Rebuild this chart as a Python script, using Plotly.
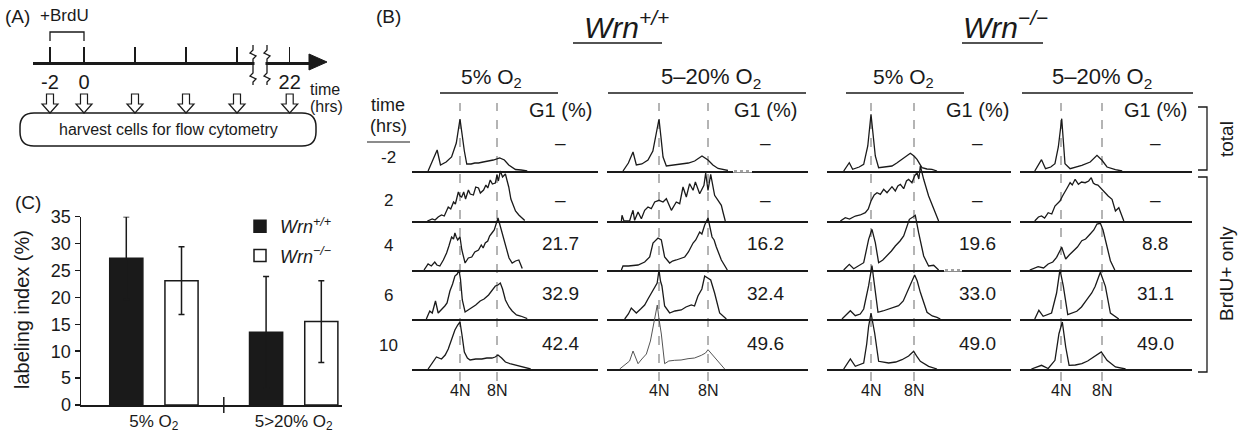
import plotly.graph_objects as go

W, H = 1247, 437
FONT = "Liberation Sans, Arial, sans-serif"
INK = "#1a1a1a"

# ---------------- data ----------------
# Panel A: schematic timeline (hours, schematic spacing)
timeline_pos = [-2, 0, 3, 6, 9, 12.1]
timeline_labels = ["-2", "0", "", "", "", "22"]

# Panel C: labeling index (%)
conditions = ["5% O<sub>2</sub>", "5>20% O<sub>2</sub>"]
wt_index = [27.3, 13.5]
wt_err = [7.7, 10.4]
ko_index = [23.1, 15.5]
ko_err = [6.3, 7.6]

# Panel B: rows / columns / G1 values
row_times = ["-2", "2", "4", "6", "10"]
col_headers = ["5% O<sub>2</sub>", "5\u201320% O<sub>2</sub>", "5% O<sub>2</sub>", "5\u201320% O<sub>2</sub>"]
g1_wt_5 = [None, None, 21.7, 32.9, 42.4]
g1_wt_520 = [None, None, 16.2, 32.4, 49.6]
g1_ko_5 = [None, None, 19.6, 33.0, 49.0]
g1_ko_520 = [None, None, 8.8, 31.1, 49.0]

# DNA histograms: DNA content (N units, 4N=4, 8N=8) and counts (a.u.)
c1r1_dna = [0.55, 1.53, 1.89, 2.5, 3.09, 3.6, 4.0, 4.2, 4.47, 4.73, 5.2, 5.6, 6.0, 6.5, 7.09, 7.6, 8.29, 8.8, 9.27, 10.0, 10.6, 11.27]
c1r1_cnt = [0, 21, 6, 9, 14, 28, 52, 38, 20, 7, 7, 8, 8, 9, 10, 11, 13, 11, 6, 1.5, 1, 0]
c1r2_dna = [0.47, 1.0, 1.3, 1.64, 2.0, 2.3, 2.73, 3.0, 3.3, 3.5, 3.82, 4.0, 4.18, 4.4, 4.6, 4.91, 5.1, 5.45, 5.7, 6.0, 6.2, 6.55, 6.8, 7.0, 7.27, 7.5, 7.82, 8.0, 8.15, 8.36, 8.6, 8.91, 9.1, 9.27, 9.5, 9.71, 10.0, 10.36, 10.7, 11.0]
c1r2_cnt = [0, 2, 1, 4, 6, 5, 14, 12, 19, 17, 29, 25, 24, 29, 22, 31, 27, 26, 34, 33, 28, 31, 36, 33, 41, 37, 38, 46, 40, 50, 44, 47, 40, 34, 22, 16, 10, 6, 3, 0.5]
c1r3_dna = [0.11, 0.55, 0.9, 1.27, 1.5, 1.82, 2.2, 2.55, 2.8, 3.09, 3.3, 3.45, 3.6, 3.75, 4.0, 4.2, 4.55, 4.9, 5.27, 5.6, 6.0, 6.3, 6.5, 6.73, 7.0, 7.2, 7.45, 7.7, 8.11, 8.4, 8.73, 9.0, 9.3, 9.64, 10.0, 10.36, 10.73]
c1r3_cnt = [0, 6, 4, 8, 5, 4, 10, 17, 24, 33, 31, 37, 33, 30, 33, 20, 7, 12, 13, 18, 20, 25, 22, 27, 29, 34, 37, 40, 52, 42, 30, 20, 12, 7, 9, 10, 1.5]
c1r4_dna = [0.36, 0.73, 1.0, 1.35, 1.64, 2.0, 2.36, 2.6, 2.91, 3.2, 3.45, 3.7, 3.89, 4.05, 4.25, 4.55, 4.9, 5.27, 5.7, 6.18, 6.6, 7.09, 7.5, 7.82, 8.1, 8.36, 8.6, 8.91, 9.3, 9.64, 10.1, 10.55, 11.27]
c1r4_cnt = [0, 8, 6, 18, 6, 9, 13, 16, 28, 35, 43, 45, 49, 40, 19, 7, 9, 11, 14, 18, 20, 24, 29, 33, 34, 36, 30, 19, 12, 8, 4, 3, 0.5]
c1r5_dna = [0.55, 1.0, 1.45, 2.0, 2.4, 2.73, 3.1, 3.45, 3.75, 4.0, 4.2, 4.47, 4.8, 5.09, 5.7, 6.36, 6.9, 7.45, 7.8, 8.11, 8.5, 8.91, 9.5, 10.0, 10.8, 11.64]
c1r5_cnt = [0, 6, 12, 10, 14, 20, 29, 39, 44, 47, 35, 17, 11, 9, 10, 10, 11, 11, 12, 14, 11, 7, 5, 4, 2, 0]

c2r1_dna = [1.06, 1.5, 1.88, 2.15, 2.6, 3.1, 3.5, 3.75, 4.0, 4.15, 4.33, 4.6, 5.2, 5.82, 6.4, 6.91, 7.2, 7.51, 8.0, 8.4, 8.82, 9.2, 9.63]
c2r1_cnt = [0, 8, 19, 6, 7, 11, 20, 35, 52, 35, 14, 5, 6, 7, 8, 10, 12, 15, 11, 6, 2.5, 1.5, 0.5]
c2r2_dna = [0.93, 0.98, 1.14, 1.6, 1.74, 1.88, 2.01, 2.29, 2.56, 2.83, 3.10, 3.37, 3.65, 4.0, 4.33, 4.60, 5.01, 5.41, 5.69, 5.96, 6.23, 6.50, 6.78, 6.97, 7.32, 7.67, 7.81, 8.0, 8.22, 8.54, 8.82, 9.09, 9.22, 9.41]
c2r2_cnt = [0, 5.7, 0, 0, 5.7, 10.7, 0.7, 9, 2.3, 10.7, 14, 12.3, 19, 20.7, 19, 22.3, 10.7, 19, 17.3, 34, 24, 37.3, 30.7, 39, 27.3, 35.7, 48, 30.7, 46.7, 25.7, 20.7, 15.7, 9, 0]
c2r3_dna = [0.93, 1.06, 1.5, 2.0, 2.29, 2.83, 3.24, 3.51, 3.7, 3.92, 4.19, 4.46, 4.87, 5.1, 5.41, 5.8, 6.1, 6.4, 6.78, 7.0, 7.32, 7.5, 7.73, 8.0, 8.33, 8.5, 8.68, 9.09, 9.3, 9.58]
c2r3_cnt = [0, 4, 4, 5, 5, 8, 13, 27, 29, 32, 30, 13, 7, 9, 10, 12, 13, 18, 27, 30, 38, 36, 45, 52, 33, 30, 23, 10, 5, 0]
c2r4_dna = [1.20, 1.5, 1.74, 2.15, 2.5, 2.83, 3.1, 3.37, 3.65, 3.85, 4.0, 4.12, 4.24, 4.46, 4.87, 5.3, 5.82, 6.2, 6.64, 6.9, 7.18, 7.5, 7.73, 7.95, 8.22, 8.54, 8.95, 9.5]
c2r4_cnt = [0, 5, 11, 6, 10, 14, 20, 26, 33, 36, 49, 38, 33, 13, 6, 8, 9, 12, 14, 13, 23, 30, 43, 41, 39, 26, 6, 0]
c2r5_dna = [0.79, 1.2, 1.6, 1.88, 2.29, 2.6, 2.97, 3.3, 3.51, 3.7, 3.86, 4.0, 4.19, 4.46, 4.8, 5.28, 5.8, 6.37, 6.9, 7.46, 7.8, 8.0, 8.41, 8.95, 9.36]
c2r5_cnt = [0, 3.7, 8, 18, 5.3, 10, 15, 28, 42, 55, 64, 50, 35, 5.3, 8, 8.7, 9, 10.3, 11, 13.7, 16, 19.3, 13.7, 5.3, 0]

c3r1_dna = [1.46, 1.98, 2.29, 2.9, 3.32, 3.7, 4.0, 4.2, 4.40, 4.71, 5.3, 5.95, 6.4, 6.88, 7.3, 7.66, 8.0, 8.28, 8.74, 9.2, 9.67, 10.14]
c3r1_cnt = [0, 8.3, 1.7, 4, 6.7, 25, 56.7, 35, 15, 3.3, 4, 5, 8, 11.7, 15, 17.7, 15, 11.7, 3.3, 2, 1.7, 0]
c3r2_dna = [1.15, 1.61, 2.0, 2.54, 3.0, 3.47, 3.75, 4.0, 4.3, 4.56, 4.87, 5.18, 5.49, 5.95, 6.26, 6.5, 6.73, 7.04, 7.3, 7.50, 7.81, 8.05, 8.28, 8.45, 8.59, 8.75, 8.90, 9.36, 9.83, 10.29]
c3r2_cnt = [0, 3.3, 2, 5, 6, 8.3, 12, 20, 26, 28.3, 26.7, 31.7, 28.3, 34.3, 30, 35, 36.7, 32.3, 40, 41.7, 38.3, 45, 48.3, 42, 55, 47, 41.7, 25, 11.7, 0]
c3r3_dna = [1.46, 1.98, 2.39, 3.0, 3.32, 3.78, 4.09, 4.40, 4.71, 5.1, 5.49, 5.9, 6.26, 6.7, 7.04, 7.3, 7.57, 7.9, 8.12, 8.43, 8.90, 9.36, 9.83, 10.29]
c3r3_cnt = [0, 5.7, 1.3, 5, 7.3, 30.7, 40.7, 27.3, 7.3, 10, 14, 19, 24, 29, 34, 42, 50.7, 53, 54.7, 37.3, 14, 4, 4.7, 0]
c3r4_dna = [1.30, 2.08, 2.54, 3.0, 3.32, 3.78, 4.09, 4.34, 4.65, 5.1, 5.64, 6.1, 6.57, 7.0, 7.35, 7.7, 8.06, 8.3, 8.59, 9.21, 9.7, 10.14, 10.45]
c3r4_cnt = [0, 8.3, 3.3, 5, 10, 33.3, 53.3, 33.3, 6.7, 8, 10, 11, 13.3, 18, 26.7, 36, 44, 38, 26.7, 6.7, 3, 1.7, 0]
c3r5_dna = [1.46, 2.08, 2.54, 3.32, 3.6, 3.78, 4.0, 4.34, 4.71, 5.64, 6.3, 6.88, 7.5, 7.97, 8.3, 8.59, 9.36, 10.14]
c3r5_cnt = [0, 10, 2.7, 6, 25, 42.7, 56, 36, 7.7, 6, 7, 9.3, 13, 17.7, 12, 7.7, 2.7, 0]

c4r1_dna = [1.44, 2.10, 2.49, 3.0, 3.41, 3.74, 4.07, 4.25, 4.39, 4.89, 5.5, 6.03, 6.85, 7.51, 8.0, 8.49, 9.31, 9.97]
c4r1_cnt = [0, 11.3, 2.3, 4, 7.3, 24, 52.3, 25, 7.3, 2.3, 4, 5.7, 9, 15.7, 10.7, 4, 1.3, 0]
c4r2_dna = [1.44, 1.8, 2.10, 2.4, 2.75, 3.1, 3.41, 3.9, 4.15, 4.39, 4.6, 4.89, 5.1, 5.38, 5.70, 6.0, 6.36, 6.7, 6.95, 7.15, 7.34, 7.6, 7.84, 8.1, 8.33, 8.6, 8.98, 9.31, 9.64, 10.13]
c4r2_cnt = [0, 4, 5, 3, 8.3, 7, 15, 20, 25, 30, 33, 38.3, 36, 41.7, 36.7, 39, 38.3, 40, 43.3, 38, 36.7, 36, 33.3, 31, 28.3, 25, 21.7, 10, 13.3, 0]
c4r3_dna = [0.95, 1.77, 2.3, 2.75, 3.2, 3.57, 4.07, 4.46, 4.8, 5.21, 5.6, 6.03, 6.4, 6.85, 7.2, 7.51, 7.84, 8.1, 8.33, 8.82, 9.25]
c4r3_cnt = [0, 3.3, 2, 6, 8, 12.7, 22.7, 11, 15, 19.3, 23, 29.3, 31, 36, 40, 46, 46.7, 40, 29.3, 9.3, 0]
c4r4_dna = [1.44, 1.84, 2.26, 3.08, 3.57, 3.90, 4.23, 4.66, 5.54, 6.0, 6.52, 7.0, 7.34, 7.84, 8.33, 8.82, 9.64]
c4r4_cnt = [0, 8.7, 2.7, 6, 26, 49.3, 32.7, 4.3, 7.7, 12, 19.3, 26, 32.7, 46.7, 32.7, 6, 0]
c4r5_dna = [1.11, 2.10, 2.75, 3.41, 3.80, 4.13, 4.46, 4.79, 5.4, 6.03, 6.6, 7.18, 7.93, 8.49, 9.31, 10.30]
c4r5_cnt = [0, 3.7, 0.5, 8.7, 35.3, 47, 22, 3.7, 4, 5.3, 8, 12, 17, 8.7, 2, 0]

# ---------------- helpers ----------------
def fx(p):
    return p / W


def fy(p):
    return 1 - p / H


def path(points, close=False):
    s = "M " + " L ".join(f"{fx(a):.5f},{fy(b):.5f}" for a, b in points)
    return s + (" Z" if close else "")


def axname(k):
    return ("x", "y", "xaxis", "yaxis") if k == 1 else (f"x{k}", f"y{k}", f"xaxis{k}", f"yaxis{k}")


fig = go.Figure()
layout = dict(
    width=W, height=H, margin=dict(l=0, r=0, t=0, b=0, pad=0, autoexpand=False),
    paper_bgcolor="white", plot_bgcolor="rgba(0,0,0,0)",
    font=dict(family=FONT, color=INK), showlegend=True,
)
shapes = []
annotations = []


def ann(x, y, text, size, xref="paper", **kw):
    d = dict(x=fx(x) if xref == "paper" else x, y=fy(y), xref=xref, yref="paper", text=text,
             showarrow=False, xanchor="center", yanchor="middle",
             font=dict(size=size, family=FONT, color=INK))
    d.update(kw)
    annotations.append(d)


def hline(x0, x1, y, width=1.5, color=INK, dash=None):
    ln = dict(color=color, width=width)
    if dash:
        ln["dash"] = dash
    shapes.append(dict(type="line", xref="paper", yref="paper", x0=fx(x0), x1=fx(x1), y0=fy(y), y1=fy(y), line=ln))


# ---------------- Panel B: histograms ----------------
hists = [
    [(c1r1_dna, c1r1_cnt), (c1r2_dna, c1r2_cnt), (c1r3_dna, c1r3_cnt), (c1r4_dna, c1r4_cnt), (c1r5_dna, c1r5_cnt)],
    [(c2r1_dna, c2r1_cnt), (c2r2_dna, c2r2_cnt), (c2r3_dna, c2r3_cnt), (c2r4_dna, c2r4_cnt), (c2r5_dna, c2r5_cnt)],
    [(c3r1_dna, c3r1_cnt), (c3r2_dna, c3r2_cnt), (c3r3_dna, c3r3_cnt), (c3r4_dna, c3r4_cnt), (c3r5_dna, c3r5_cnt)],
    [(c4r1_dna, c4r1_cnt), (c4r2_dna, c4r2_cnt), (c4r3_dna, c4r3_cnt), (c4r4_dna, c4r4_cnt), (c4r5_dna, c4r5_cnt)],
]
g1_values = [g1_wt_5, g1_wt_520, g1_ko_5, g1_ko_520]

col_px = [(412, 598, 460, 497), (607, 808, 659, 708), (827, 1011, 871, 914), (1020, 1192, 1061, 1102)]
row_base = [171, 221, 270, 319, 369]
HH = 66
header_x = [491, 711, 903, 1102]
header_line = [(440, 558), (608, 806), (846, 964), (1022, 1193)]
g1_x = [560, 765, 977, 1155]
val_y = [143, 199, 243, 293, 343]

k = 0
for c in range(4):
    left, right, p4, p8 = col_px[c]
    ppn = (p8 - p4) / 4.0
    xr = [4 + (left - p4) / ppn, 4 + (right - p4) / ppn]
    first_x = None
    for r in range(5):
        k += 1
        xa, ya, xkey, ykey = axname(k)
        if first_x is None:
            first_x = xa
        dna, cnt = hists[c][r]
        faint = (c == 1 and r == 4)
        fig.add_trace(go.Scatter(
            x=dna, y=cnt, mode="lines",
            line=dict(color="#555555" if faint else INK, width=1.0 if faint else 1.3),
            xaxis=xa, yaxis=ya, showlegend=False, hoverinfo="skip", cliponaxis=False))
        layout[xkey] = dict(domain=[fx(left), fx(right)], range=xr, anchor=ya, showline=True,
                            linecolor=INK, linewidth=1.5, showticklabels=False, ticks="",
                            showgrid=False, zeroline=False, fixedrange=True)
        b = row_base[r]
        layout[ykey] = dict(domain=[fy(b), fy(b - HH)], range=[0, HH], anchor=xa,
                            visible=False, fixedrange=True)
        v = g1_values[c][r]
        ann(g1_x[c], val_y[r], "\u2013" if v is None else f"{v:.1f}", 19)
    for v, lab in ((4, "4N"), (8, "8N")):
        shapes.append(dict(type="line", xref=first_x, yref="paper", x0=v, x1=v, y0=fy(381), y1=fy(103),
                           line=dict(color="#777777", width=1.1, dash="dash"), layer="below"))
        ann(v, 390, lab, 16, xref=first_x)
    ann(header_x[c], 78, col_headers[c], 21 if c % 2 == 0 else 22)
    hline(header_line[c][0], header_line[c][1], 93)
    ann(g1_x[c], 110, "G1 (%)", 20)

# dotted gaps on two baselines
for (x0, x1, y) in ((733, 752, 171), (944, 962, 270)):
    hline(x0, x1, y, width=3, color="white")
    hline(x0 + 1, x1 - 1, y, width=1.2, color="#444444", dash="dot")

ann(388, 17, "(B)", 19)
ann(626, 25, "<i>Wrn<sup>+/+</sup></i>", 30)
ann(1005, 25, "<i>Wrn<sup>\u2212/\u2212</sup></i>", 30)
hline(573, 662, 43)
hline(962, 1043, 43)
ann(388, 105, "time", 18)
ann(388, 126, "(hrs)", 18)
hline(367, 410, 142, width=1.2)
row_label_y = [158, 201, 246, 295, 345]
for t, yy in zip(row_times, row_label_y):
    ann(388, yy, t, 17)

# right brackets
shapes.append(dict(type="path", xref="paper", yref="paper", path=path([(1198, 107), (1207, 107), (1207, 170), (1198, 170)]),
                   line=dict(color=INK, width=1.3)))
shapes.append(dict(type="path", xref="paper", yref="paper", path=path([(1198, 177), (1207, 177), (1207, 372), (1198, 372)]),
                   line=dict(color=INK, width=1.3)))
ann(1226, 139, "total", 19, textangle=-90)
ann(1226, 274, "BrdU+ only", 19, textangle=-90)

# ---------------- Panel C: bar chart ----------------
fig.add_trace(go.Bar(
    x=[0, 1], y=wt_index, name="<i>Wrn<sup>+/+</sup></i>", legendgroup="wt",
    marker=dict(color=INK, line=dict(color=INK, width=1.5)),
    error_y=dict(type="data", array=wt_err, color=INK, thickness=1.5, width=3),
    xaxis="x21", yaxis="y21", hoverinfo="skip"))
fig.add_trace(go.Bar(
    x=[0, 1], y=ko_index, name="<i>Wrn<sup>\u2212/\u2212</sup></i>", legendgroup="ko",
    marker=dict(color="white", line=dict(color=INK, width=1.5)),
    error_y=dict(type="data", array=ko_err, color=INK, thickness=1.5, width=3),
    xaxis="x21", yaxis="y21", hoverinfo="skip"))
c_left, c_right, c0, cstep = 81, 342, 153.9, 139.8
layout["xaxis21"] = dict(domain=[fx(c_left), fx(c_right)], range=[(c_left - c0) / cstep, (c_right - c0) / cstep],
                         anchor="y21", showline=True, linecolor=INK, linewidth=1.5, tickvals=[0, 1],
                         ticktext=conditions, ticks="", tickfont=dict(size=17), showgrid=False,
                         zeroline=False, fixedrange=True)
layout["yaxis21"] = dict(domain=[fy(405), fy(216.7)], range=[0, 35], dtick=5, tick0=0, anchor="x21",
                         showline=True, linecolor=INK, linewidth=1.5, ticks="outside", ticklen=5,
                         tickwidth=1.5, tickcolor=INK, tickfont=dict(size=18), showgrid=False,
                         zeroline=False, fixedrange=True)
layout["barmode"] = "group"
layout["bargap"] = 0.21
layout["bargroupgap"] = 0.4
shapes.append(dict(type="line", xref="x21", yref="paper", x0=0.5, x1=0.5, y0=fy(397), y1=fy(413),
                   line=dict(color=INK, width=1.5)))
ann(22, 310, "labeling index (%)", 20, textangle=-90)
ann(28, 203, "(C)", 19)
layout["legend"] = dict(x=fx(240), y=fy(208), xanchor="left", yanchor="top", font=dict(size=18, family=FONT),
                        bgcolor="rgba(0,0,0,0)", tracegroupgap=3, itemwidth=30)

# ---------------- Panel A: timeline schematic ----------------
t0px, tpx = 84, 17.0
a_left, a_right = 33, 312
lab_vals = [p for p, l in zip(timeline_pos, timeline_labels) if l]
lab_text = [l for l in timeline_labels if l]
minor_vals = [p for p, l in zip(timeline_pos, timeline_labels) if not l]
fig.add_trace(go.Scatter(x=timeline_pos, y=[0.5] * len(timeline_pos), mode="markers",
                         marker=dict(opacity=0), xaxis="x22", yaxis="y22", showlegend=False, hoverinfo="skip"))
layout["xaxis22"] = dict(domain=[fx(a_left), fx(a_right)], range=[(a_left - t0px) / tpx, (a_right - t0px) / tpx],
                         anchor="y22", showline=True, linecolor=INK, linewidth=2.5, tickvals=lab_vals,
                         ticktext=lab_text, ticks="inside", ticklen=15, tickwidth=1.5, tickcolor=INK,
                         minor=dict(tickvals=minor_vals, ticks="inside", ticklen=15, tickwidth=1.5,
                                    tickcolor=INK, showgrid=False),
                         tickfont=dict(size=20), showgrid=False, zeroline=False, fixedrange=True)
layout["yaxis22"] = dict(domain=[fy(62), fy(30)], range=[0, 1], anchor="x22", visible=False, fixedrange=True)
# arrow head
shapes.append(dict(type="path", xref="paper", yref="paper", path=path([(309, 54), (327, 62), (309, 70)], close=True),
                   fillcolor=INK, line=dict(color=INK, width=1)))
# break in the axis
shapes.append(dict(type="rect", xref="paper", yref="paper", x0=fx(254.5), x1=fx(265.5), y0=fy(67), y1=fy(57),
                   fillcolor="white", line=dict(width=0)))
for bx in (253, 267):
    pts = [(bx, 45), (bx, 50), (bx - 3, 53), (bx + 3, 56), (bx, 59), (bx, 73), (bx - 3, 76), (bx + 3, 79), (bx, 82), (bx, 85)]
    shapes.append(dict(type="path", xref="paper", yref="paper", path=path(pts), line=dict(color=INK, width=1.3)))
# +BrdU bracket
shapes.append(dict(type="path", xref="x22", yref="paper",
                   path=f"M {timeline_pos[0]},{fy(41):.5f} L {timeline_pos[0]},{fy(32):.5f} L {timeline_pos[1]},{fy(32):.5f} L {timeline_pos[1]},{fy(41):.5f}",
                   line=dict(color=INK, width=1.3)))
# hollow harvest arrows
for t in timeline_pos:
    shapes.append(dict(type="path", xref="x22", yref="paper", xsizemode="pixel", ysizemode="pixel",
                       xanchor=t, yanchor=fy(103),
                       path="M -3.5,9 L 3.5,9 L 3.5,-1 L 8,-1 L 0,-10 L -8,-1 L -3.5,-1 Z",
                       fillcolor="white", line=dict(color=INK, width=1.2)))
# rounded box
bx0, bx1, by0, by1, rr = 20, 316, 113, 146, 14
box = (f"M {fx(bx0 + rr):.5f},{fy(by0):.5f} L {fx(bx1 - rr):.5f},{fy(by0):.5f} "
       f"Q {fx(bx1):.5f},{fy(by0):.5f} {fx(bx1):.5f},{fy(by0 + rr):.5f} L {fx(bx1):.5f},{fy(by1 - rr):.5f} "
       f"Q {fx(bx1):.5f},{fy(by1):.5f} {fx(bx1 - rr):.5f},{fy(by1):.5f} L {fx(bx0 + rr):.5f},{fy(by1):.5f} "
       f"Q {fx(bx0):.5f},{fy(by1):.5f} {fx(bx0):.5f},{fy(by1 - rr):.5f} L {fx(bx0):.5f},{fy(by0 + rr):.5f} "
       f"Q {fx(bx0):.5f},{fy(by0):.5f} {fx(bx0 + rr):.5f},{fy(by0):.5f} Z")
shapes.append(dict(type="path", xref="paper", yref="paper", path=box, line=dict(color=INK, width=1.5)))
ann(168, 130, "harvest cells for flow cytometry", 16)
ann(17, 17, "(A)", 19)
ann(64, 16, "+BrdU", 17)
ann(308, 89, "time", 16, xanchor="left")
ann(308, 106, "(hrs)", 16, xanchor="left")

layout["shapes"] = shapes
layout["annotations"] = annotations
fig.update_layout(layout)
fig.write_html("out.html", include_plotlyjs=True, full_html=True,
               default_width=f"{W}px", default_height=f"{H}px",
               config={"displayModeBar": False, "staticPlot": True},
               post_script="document.body.style.margin='0';document.body.style.padding='0';"
                           "document.body.style.overflow='hidden';")
